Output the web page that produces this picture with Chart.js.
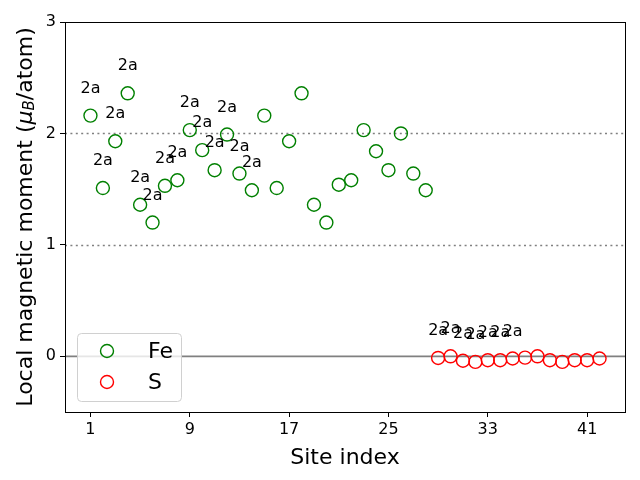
<!DOCTYPE html>
<html>
<head>
<meta charset="utf-8">
<script src="https://cdn.jsdelivr.net/npm/chart.js@4/dist/chart.umd.min.js"></script>
<style>
  html, body { margin: 0; padding: 0; background: #fff; }
  #wrap { width: 640px; height: 480px; }
</style>
</head>
<body>
<div id="wrap"><canvas id="moment_chart" width="640" height="480"></canvas></div>
<script>
// site indices and local moments
var feSites = [1, 2, 3, 4, 5, 6, 7, 8, 9, 10, 11, 12, 13, 14,
               15, 16, 17, 18, 19, 20, 21, 22, 23, 24, 25, 26, 27, 28];
var feMoments = [2.16, 1.51, 1.93, 2.36, 1.36, 1.20, 1.53, 1.58, 2.03, 1.85, 1.67, 1.99, 1.64, 1.49,
                 2.16, 1.51, 1.93, 2.36, 1.36, 1.20, 1.54, 1.58, 2.03, 1.84, 1.67, 2.00, 1.64, 1.49];
var feLabels = ['2a', '2a', '2a', '2a', '2a', '2a', '2a', '2a', '2a', '2a', '2a', '2a', '2a', '2a',
                '', '', '', '', '', '', '', '', '', '', '', '', '', ''];

var sSites = [29, 30, 31, 32, 33, 34, 35, 36, 37, 38, 39, 40, 41, 42];
var sMoments = [-0.015, 0.0, -0.04, -0.05, -0.035, -0.035, -0.02,
                -0.012, 0.0, -0.035, -0.05, -0.035, -0.035, -0.02];
var sLabels = ['2a', '2a', '2a', '2a', '2a', '2a', '2a',
               '', '', '', '', '', '', ''];

var xTicks = [1, 9, 17, 25, 33, 41];
var yTicks = [0, 1, 2, 3];
var dottedLines = [1, 2];
var zeroLine = 0;

var FONT = '"DejaVu Sans", sans-serif';

function points(xs, ys) {
    return xs.map(function (x, i) { return { x: x, y: ys[i] }; });
}

// horizontal reference lines under the markers
var refLinesPlugin = {
    id: 'refLines',
    beforeDatasetsDraw: function (chart) {
        var ctx = chart.ctx, a = chart.chartArea, ys = chart.scales.y;
        ctx.save();
        ctx.strokeStyle = 'gray';
        ctx.lineWidth = 1.5;
        ctx.setLineDash([2, 3.4]);
        dottedLines.forEach(function (v) {
            var y = Math.round(ys.getPixelForValue(v)) + 0.5;
            ctx.beginPath();
            ctx.moveTo(a.left, y);
            ctx.lineTo(a.right, y);
            ctx.stroke();
        });
        ctx.setLineDash([]);
        ctx.lineWidth = 1.8;
        var y0 = ys.getPixelForValue(zeroLine);
        ctx.beginPath();
        ctx.moveTo(a.left, y0);
        ctx.lineTo(a.right, y0);
        ctx.stroke();
        ctx.restore();
    }
};

// "2a" annotations, legend box, frame and y title
var decorPlugin = {
    id: 'decor',
    afterDatasetsDraw: function (chart) {
        var ctx = chart.ctx, a = chart.chartArea;
        ctx.save();

        // site labels above points
        ctx.fillStyle = '#000';
        ctx.font = '16px ' + FONT;
        ctx.textAlign = 'center';
        ctx.textBaseline = 'middle';
        chart.data.datasets.forEach(function (ds, i) {
            var meta = chart.getDatasetMeta(i);
            meta.data.forEach(function (pt, j) {
                var txt = ds.siteLabels[j];
                if (txt) ctx.fillText(txt, pt.x, pt.y - 27);
            });
        });

        // legend
        var bx = a.left + 12, bw = 104, bh = 68, by = a.bottom - 11 - bh;
        ctx.beginPath();
        ctx.roundRect(bx + 0.5, by + 0.5, bw, bh, 4);
        ctx.fillStyle = 'rgba(255,255,255,0.8)';
        ctx.fill();
        ctx.strokeStyle = '#d0d0d0';
        ctx.lineWidth = 1;
        ctx.stroke();
        ctx.font = '22px ' + FONT;
        ctx.textAlign = 'left';
        chart.data.datasets.forEach(function (ds, i) {
            var cy = by + 18 + i * 31;
            ctx.beginPath();
            ctx.arc(bx + 30, cy, 6.5, 0, Math.PI * 2);
            ctx.strokeStyle = ds.borderColor;
            ctx.lineWidth = 1.4;
            ctx.stroke();
            ctx.fillStyle = '#000';
            ctx.fillText(ds.label, bx + 71, cy + 1);
        });

        // frame on all four sides
        ctx.strokeStyle = '#000';
        ctx.lineWidth = 1;
        ctx.strokeRect(Math.round(a.left) + 0.5, Math.round(a.top) + 0.5,
                       Math.round(a.right - a.left), Math.round(a.bottom - a.top));

        // y title with mu_B
        var parts = [
            { t: 'Local magnetic moment (', f: '22px ' + FONT, dy: 0 },
            { t: '\u03bc', f: 'italic 22px ' + FONT, dy: 0 },
            { t: 'B', f: 'italic 15px ' + FONT, dy: 4 },
            { t: '/atom)', f: '22px ' + FONT, dy: 0 }
        ];
        var total = 0;
        parts.forEach(function (p) { ctx.font = p.f; p.w = ctx.measureText(p.t).width; total += p.w; });
        ctx.translate(26, (a.top + a.bottom) / 2);
        ctx.rotate(-Math.PI / 2);
        ctx.textBaseline = 'middle';
        ctx.fillStyle = '#000';
        var x = -total / 2;
        parts.forEach(function (p) {
            ctx.font = p.f;
            ctx.fillText(p.t, x, p.dy);
            x += p.w;
        });
        ctx.restore();
    }
};

new Chart(document.getElementById('moment_chart').getContext('2d'), {
    type: 'scatter',
    data: {
        datasets: [{
            label: 'Fe',
            data: points(feSites, feMoments),
            siteLabels: feLabels,
            borderColor: 'green',
            backgroundColor: 'rgba(0,0,0,0)',
            pointRadius: 6.5,
            pointBorderWidth: 1.4
        }, {
            label: 'S',
            data: points(sSites, sMoments),
            siteLabels: sLabels,
            borderColor: 'red',
            backgroundColor: 'rgba(0,0,0,0)',
            pointRadius: 6.5,
            pointBorderWidth: 1.4
        }]
    },
    options: {
        responsive: false,
        animation: false,
        layout: { padding: { top: 22, right: 15, left: 0, bottom: 9 } },
        plugins: {
            legend: { display: false },
            tooltip: { enabled: false }
        },
        scales: {
            x: {
                type: 'linear',
                min: -1.05,
                max: 44.05,
                afterBuildTicks: function (scale) {
                    scale.ticks = xTicks.map(function (v) { return { value: v }; });
                },
                afterFit: function (scale) { scale.height = 59; },
                grid: { drawOnChartArea: false, tickLength: 5, color: '#000' },
                border: { color: '#000' },
                ticks: { color: '#000', font: { family: FONT, size: 16 }, padding: 3, maxRotation: 0 },
                title: { display: true, text: 'Site index', color: '#000', font: { family: FONT, size: 22 }, padding: { top: 0, bottom: 0 } }
            },
            y: {
                min: -0.5,
                max: 3,
                afterBuildTicks: function (scale) {
                    scale.ticks = yTicks.map(function (v) { return { value: v }; });
                },
                afterFit: function (scale) { scale.width = 65; },
                grid: { drawOnChartArea: false, tickLength: 5, color: '#000' },
                border: { color: '#000' },
                ticks: { color: '#000', font: { family: FONT, size: 16 }, padding: 4 }
            }
        }
    },
    plugins: [refLinesPlugin, decorPlugin]
});
</script>
</body>
</html>
